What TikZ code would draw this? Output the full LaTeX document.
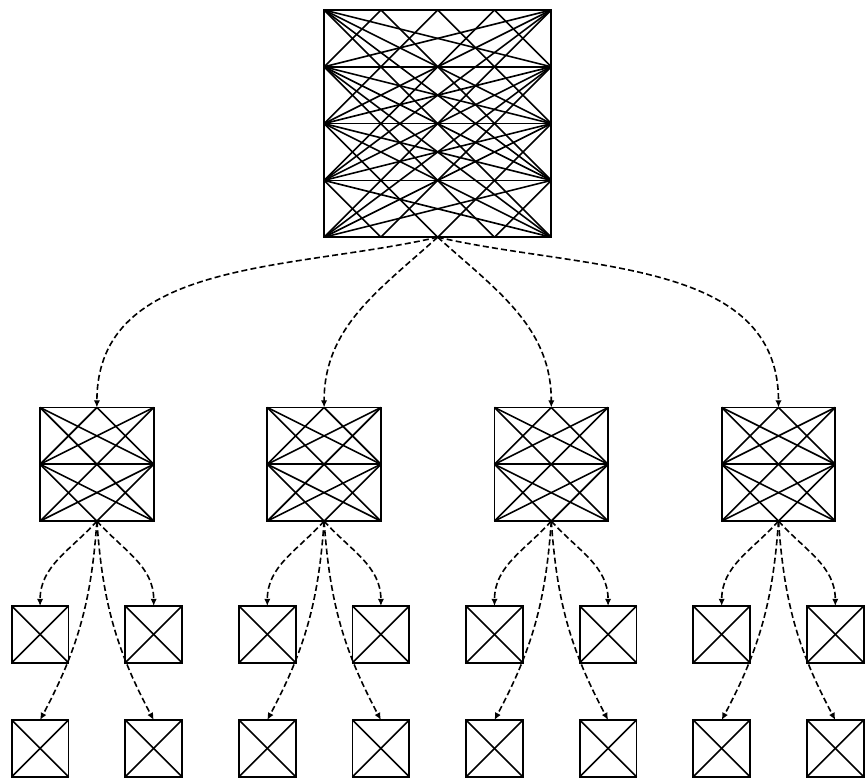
\documentclass[tikz,border=0pt]{standalone}
\usetikzlibrary{arrows.meta}

\tikzset{
  x=28.4pt, y=28.4pt,
  wire/.style={line width=0.8pt, black},
  boxnode/.style={draw, line width=0.85pt, inner sep=0pt, outer sep=0pt,
                  minimum size=#1*28.4pt},
  link/.style={line width=0.8pt, dash pattern=on 3pt off 1.6pt,
               -{Latex[length=3.6pt,width=3.2pt]}},
  % every left point joined to every right point, plus the 45-degree lattice lines
  pics/lattice/.style={code={
    \pgfmathtruncatemacro\kk{#1}
    \pgfmathtruncatemacro\km{#1-1}
    \foreach \i in {0,...,\kk}{
      \foreach \j in {0,...,\kk}{\draw[wire] (0,-\i) -- (\kk,-\j);}}
    \ifnum\kk>1
      \foreach \c in {1,...,\km}{
        \draw[wire] (0,-\c) -- (\c,0);
        \draw[wire] (\kk-\c,-\kk) -- (\kk,-\kk+\c);
        \draw[wire] (\c,0) -- (\kk,-\kk+\c);
        \draw[wire] (0,-\c) -- (\kk-\c,-\kk);
      }
    \fi
  }}
}

\begin{document}
\begin{tikzpicture}
\useasboundingbox (0,0) rectangle (15.229,-13.697);

% root block
\node[boxnode=4] (root) at (7.706,-2.176) {};
\pic at (root.north west) {lattice=4};

% second level blocks and their leaves
\foreach \n/\x in {1/1.706, 2/5.706, 3/9.706, 4/13.706}{
  \node[boxnode=2] (m\n) at (\x,-8.174) {};
  \pic at (m\n.north west) {lattice=2};
  \node[boxnode=1] (a\n) at (\x-1,-11.169) {};
  \node[boxnode=1] (b\n) at (\x+1,-11.169) {};
  \node[boxnode=1] (c\n) at (\x-1,-13.176) {};
  \node[boxnode=1] (d\n) at (\x+1,-13.176) {};
  \pic at (a\n.north west) {lattice=1};
  \pic at (b\n.north west) {lattice=1};
  \pic at (c\n.north west) {lattice=1};
  \pic at (d\n.north west) {lattice=1};
  \draw[link] (m\n.south) to[out=228,in=90] (a\n.north);
  \draw[link] (m\n.south) to[out=-48,in=90] (b\n.north);
  \draw[link] (m\n.south) to[out=266,in=62] (c\n.north);
  \draw[link] (m\n.south) to[out=274,in=118] (d\n.north);
}

% root to second level
\draw[link] (root.south) to[out=193,in=90] (m1.north);
\draw[link] (root.south) to[out=222,in=90] (m2.north);
\draw[link] (root.south) to[out=-42,in=90] (m3.north);
\draw[link] (root.south) to[out=-13,in=90] (m4.north);
\end{tikzpicture}
\end{document}
